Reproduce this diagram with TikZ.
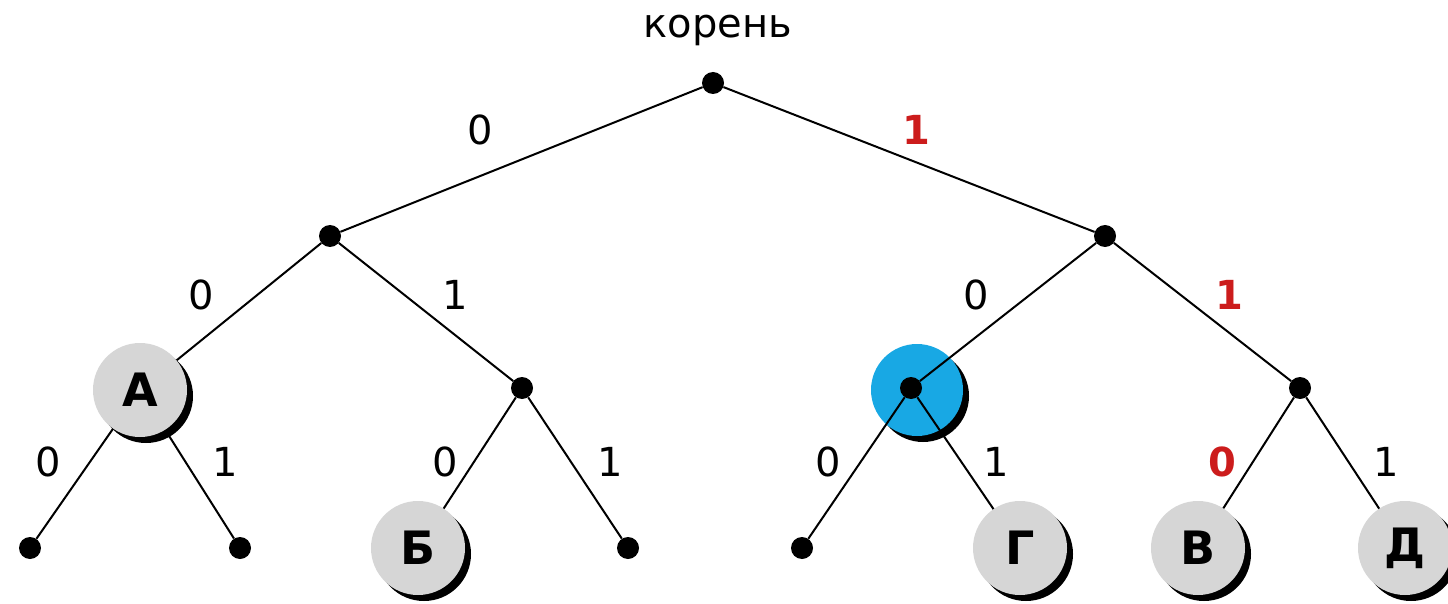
\documentclass[tikz,border=0pt]{standalone}
\usepackage{fontspec}
\setmainfont{DejaVu Sans}
\usetikzlibrary{shadows}
\definecolor{nodegray}{RGB}{214,214,214}
\definecolor{hiblue}{RGB}{24,168,228}
\definecolor{hired}{RGB}{204,28,28}
\begin{document}
\begin{tikzpicture}[x=1pt,y=-1pt,
  dot/.style={circle,fill=black,inner sep=0pt,minimum size=22pt},
  letter/.style={circle,fill=nodegray,inner sep=0pt,minimum size=94pt,
    font=\fontsize{46}{46}\selectfont\bfseries,
    drop shadow={shadow xshift=6pt,shadow yshift=-6pt,fill=black,opacity=1}},
  hinode/.style={circle,fill=hiblue,inner sep=0pt,minimum size=92pt,
    drop shadow={shadow xshift=6pt,shadow yshift=-6pt,fill=black,opacity=1}},
  edge/.style={line width=2pt},
  lbl/.style={font=\fontsize{40}{40}\selectfont},
  rlbl/.style={font=\fontsize{40}{40}\selectfont\bfseries,text=hired}]
\path[use as bounding box,fill=white] (0,0) rectangle (1448,604);
% highlight circle (drawn below its edges)
\node[hinode] (hi) at (917,390) {};
% nodes
\node[dot] (r) at (713,83) {};
\node[font=\fontsize{40}{40}\selectfont] (root) at (718,30) {корень};
\node[dot] (L) at (330,236) {};
\node[dot] (R) at (1105,236) {};
\node[dot] (LR) at (522,388) {};
\node[dot] (RL) at (911,388) {};
\node[dot] (RR) at (1300,388) {};
\node[dot] (l1) at (30,548) {};
\node[dot] (l2) at (240,548) {};
\node[dot] (l4) at (628,548) {};
\node[dot] (l5) at (802,548) {};
% edges
\draw[edge] (r) -- (L);
\draw[edge] (r) -- (R);
\draw[edge] (L) -- (LR);
\draw[edge] (R) -- (RL);
\draw[edge] (R) -- (RR);
\draw[edge] (LR) -- (l4);
\draw[edge] (RL) -- (l5);
% lettered nodes drawn over their edges
\draw[edge] (L) -- (140,390) coordinate (cA);
\draw[edge] (cA) -- (l1);
\draw[edge] (cA) -- (l2);
\draw[edge] (LR) -- (418,548) coordinate (cB);
\draw[edge] (RL) -- (1020,548) coordinate (cG);
\draw[edge] (RR) -- (1198,548) coordinate (cV);
\draw[edge] (RR) -- (1405,548) coordinate (cD);
\node[letter] (A) at (cA) {А};
\node[letter] (B) at (cB) {Б};
\node[letter] (G) at (cG) {Г};
\node[letter] (V) at (cV) {В};
\node[letter] (D) at (cD) {Д};
% edge labels
\node[lbl] (e1) at (480,130) {0};
\node[rlbl] (e2) at (916,130) {1};
\node[lbl] (e3) at (201,295) {0};
\node[lbl] (e4) at (455,295) {1};
\node[lbl] (e5) at (976,295) {0};
\node[rlbl] (e6) at (1229,295) {1};
\node[lbl] (e7) at (48,462) {0};
\node[lbl] (e8) at (225,462) {1};
\node[lbl] (e9) at (445,462) {0};
\node[lbl] (e10) at (610,462) {1};
\node[lbl] (e11) at (828,462) {0};
\node[lbl] (e12) at (996,462) {1};
\node[rlbl] (e13) at (1222,462) {0};
\node[lbl] (e14) at (1386,462) {1};
\end{tikzpicture}
\end{document}
